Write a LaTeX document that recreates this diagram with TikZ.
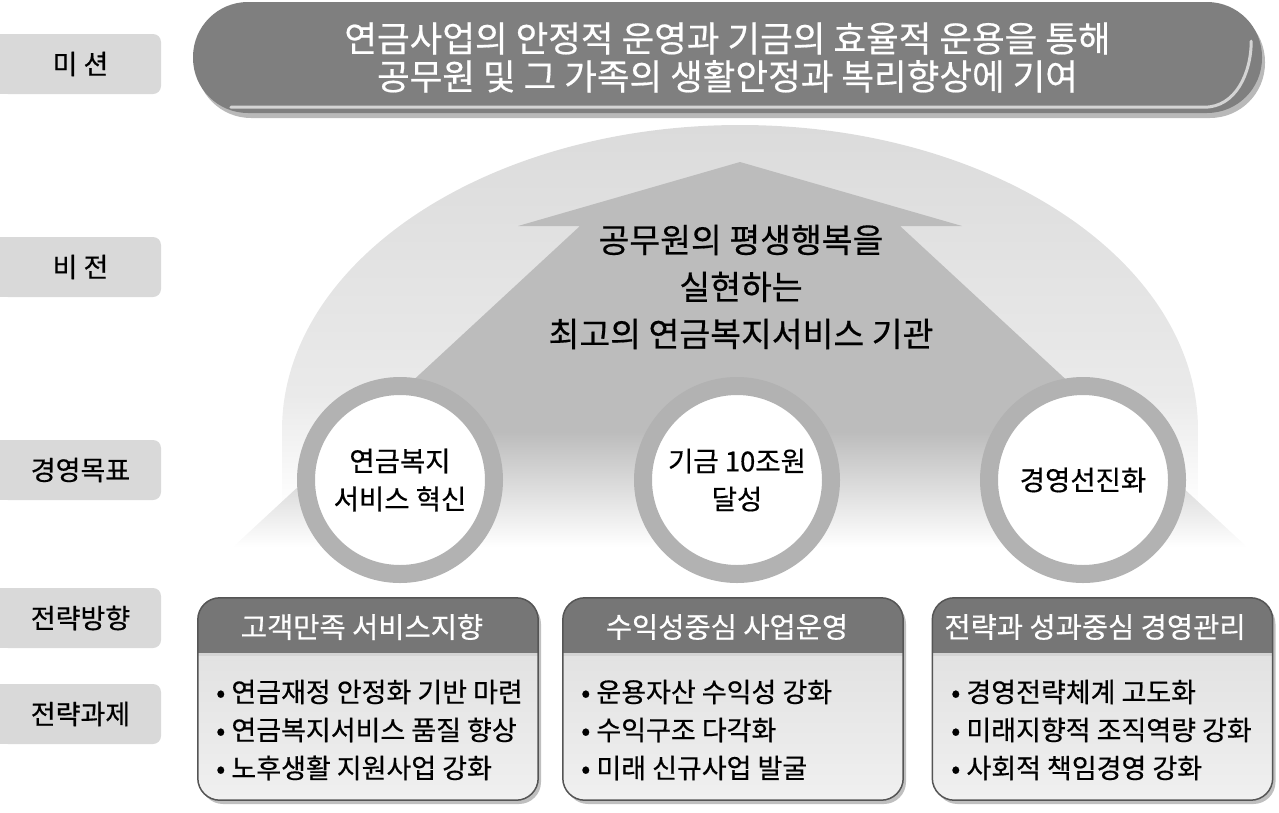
\documentclass[tikz,border=0pt]{standalone}
\usepackage{fontspec}
\setmainfont{Noto Sans CJK KR}[FakeBold=0.5]
\usetikzlibrary{shadows}

\definecolor{bannergray}{HTML}{7F7F7F}
\definecolor{tabgray}{HTML}{D9D9D9}
\definecolor{domegray}{HTML}{DBDBDB}
\definecolor{domelight}{HTML}{EAEAEA}
\definecolor{arrowgray}{HTML}{BCBCBC}
\definecolor{ringgray}{HTML}{B2B2B2}
\definecolor{headgray}{HTML}{767676}
\definecolor{bodytop}{HTML}{E2E2E2}
\definecolor{bodybottom}{HTML}{F0F0F0}
\definecolor{edgegray}{HTML}{555555}
\definecolor{glossgray}{HTML}{D4D4D4}

\pgfdeclareverticalshading{domefade}{100bp}{color(0bp)=(white); color(25bp)=(white); color(31bp)=(white); color(44bp)=(domelight); color(75bp)=(domegray); color(100bp)=(domegray)}
\pgfdeclareverticalshading{arrowfade}{100bp}{color(0bp)=(white); color(25bp)=(white); color(40bp)=(arrowgray); color(100bp)=(arrowgray)}

\begin{document}
\begin{tikzpicture}[x=1pt,y=-1pt,
  tab/.style={rectangle,fill=tabgray,rounded corners=8pt,minimum width=161pt,minimum height=60pt,inner sep=0pt,font=\fontsize{27}{30}\selectfont},
  banner/.style={rectangle,fill=bannergray,rounded corners=55pt,minimum width=1069pt,minimum height=111pt,align=center,text=white,font=\fontsize{35.5}{38}\selectfont,drop shadow={shadow xshift=3pt,shadow yshift=-5pt,opacity=.55}},
  goal/.style={circle,draw=ringgray,line width=18pt,fill=white,minimum size=188pt,inner sep=0pt,align=center,font=\fontsize{27.5}{38}\selectfont},
  dir box/.style={rectangle,fill=headgray,rounded corners=22pt,minimum width=340pt,minimum height=202pt,drop shadow={shadow xshift=3pt,shadow yshift=-4pt,opacity=.5}},
  dir title/.style={text=white,inner sep=0pt,font=\fontsize{28.5}{30}\selectfont},
  task list/.style={anchor=west,align=left,inner sep=0pt,font=\fontsize{27}{38}\selectfont},
  vision text/.style={align=center,inner sep=0pt,font=\fontsize{33.5}{47}\selectfont}]

  \useasboundingbox (0,0) rectangle (1279,812);

  \shade[shading=domefade] (282,560) -- (282,430) arc[start angle=180,end angle=360,x radius=458,y radius=305] -- (1198,560) -- cycle;
  \shade[shading=arrowfade] (740,162) -- (962,226) -- (900,226) -- (1247,547) -- (233,547) -- (580,226) -- (518,226) -- cycle;

  \foreach \name/\y/\txt in {mission/64/미 션, vision/267/비 전, target/470/경영목표, direction/618/전략방향, task/714/전략과제} {
    \node[tab] (tab-\name) at (80.5,\y) {\txt};
    \fill[tabgray] (tab-\name.north west) rectangle ([xshift=10pt]tab-\name.south west);
  }

  \node[banner] (banner) at (727.5,57.5) {연금사업의 안정적 운영과 기금의 효율적 운용을 통해\\공무원 및 그 가족의 생활안정과 복리향상에 기여};
  \draw[glossgray,line width=3pt,line cap=round] ([shift={(38pt,6pt)}]banner.south west) -- ([shift={(-58pt,6pt)}]banner.south east) to[out=0,in=-90] ([shift={(-11pt,72pt)}]banner.south east);

  \node[vision text] (vision) at (741,287) {공무원의 평생행복을\\실현하는\\최고의 연금복지서비스 기관};

  \node[goal] (goal1) at (400,480) {연금복지\\서비스 혁신};
  \node[goal] (goal2) at (737,480) {기금 10조원\\달성};
  \node[goal] (goal3) at (1083,480) {경영선진화};

  \node[dir box] (box1) at (368,699) {};
  \node[dir box] (box2) at (733,699) {};
  \node[dir box] (box3) at (1102.5,699) {};

  \foreach \b in {box1,box2,box3} {
    \shade[top color=bodytop,bottom color=bodybottom,rounded corners=22pt] ([yshift=-57pt]\b.north west) -- (\b.south west) -- (\b.south east) -- ([yshift=-57pt]\b.north east);
    \draw[glossgray,line width=3pt] ([yshift=-57pt]\b.north west) -- ([yshift=-57pt]\b.north east);
    \draw[edgegray,line width=1.5pt,rounded corners=22pt] (\b.north west) rectangle (\b.south east);
  }

  \node[dir title] (title1) at (362,627) {고객만족 서비스지향};
  \node[dir title] (title2) at (727,627) {수익성중심 사업운영};
  \node[dir title] (title3) at (1095,627) {전략과 성과중심 경영관리};

  \node[task list] (tasks1) at (216,730) {• 연금재정 안정화 기반 마련\\• 연금복지서비스 품질 향상\\• 노후생활 지원사업 강화};
  \node[task list] (tasks2) at (581,730) {• 운용자산 수익성 강화\\• 수익구조 다각화\\• 미래 신규사업 발굴};
  \node[task list] (tasks3) at (951,730) {• 경영전략체계 고도화\\• 미래지향적 조직역량 강화\\• 사회적 책임경영 강화};

\end{tikzpicture}
\end{document}
